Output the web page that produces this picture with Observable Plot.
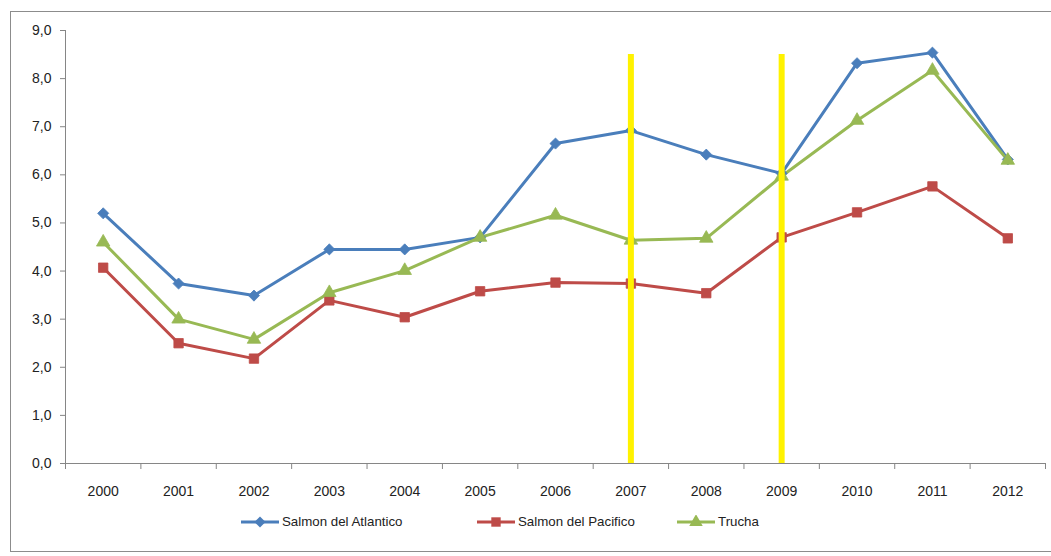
<!DOCTYPE html>
<html>
<head>
<meta charset="utf-8">
<script src="https://cdn.jsdelivr.net/npm/d3@7"></script>
<script src="https://cdn.jsdelivr.net/npm/@observablehq/plot@0.6"></script>
<style>
  html, body { margin: 0; padding: 0; background: #fff; }
  body { width: 1051px; height: 556px; position: relative; overflow: hidden; font-family: "Liberation Sans", "DejaVu Sans", sans-serif; }
  #frame { position: absolute; left: 10px; top: 11px; width: 1060px; height: 541px; border: 1px solid #8c8c8c; box-sizing: border-box; }
  #chart { position: absolute; left: 0; top: 0; }
  #legend { position: absolute; left: 240px; top: 514px; display: flex; align-items: center; font-size: 13.3px; color: #222; }
  .item { display: flex; align-items: center; }
  .item svg { display: block; margin-right: 2px; }
  #chart svg text { font-size: 14px; fill: #222; }
</style>
</head>
<body>
<div id="frame"></div>
<div id="chart"></div>
<div id="legend"></div>
<script>
const years = [2000, 2001, 2002, 2003, 2004, 2005, 2006, 2007, 2008, 2009, 2010, 2011, 2012];
const seriesNames = ["Salmon del Atlantico", "Salmon del Pacifico", "Trucha"];
const atlantico = [5.2, 3.74, 3.49, 4.45, 4.45, 4.7, 6.65, 6.92, 6.42, 6.03, 8.32, 8.54, 6.32];
const pacifico  = [4.07, 2.5, 2.18, 3.39, 3.04, 3.58, 3.76, 3.74, 3.54, 4.7, 5.22, 5.76, 4.68];
const trucha    = [4.6, 3.0, 2.58, 3.55, 4.01, 4.7, 5.16, 4.64, 4.68, 5.97, 7.13, 8.17, 6.3];
const yTicks = [0, 1, 2, 3, 4, 5, 6, 7, 8, 9];
const markedYears = [2007, 2009];
const markTop = 8.5;

const colors = ["#4A7EBB", "#BE4B48", "#98B954"];
const symbols = ["diamond2", "square", "triangle"];
const radii = [5.0, 5.3, 5.0];

const allValues = [atlantico, pacifico, trucha];
const data = [];
allValues.forEach((vals, s) => vals.forEach((v, i) => data.push({year: years[i], value: v, series: seriesNames[s]})));

const boundaries = years.map(y => y - 0.5).concat([years[years.length - 1] + 0.5]);
const fmt = d => d.toFixed(1).replace(".", ",");

const marks = [
  Plot.ruleX([boundaries[0]], {y1: 0, y2: yTicks[yTicks.length - 1], stroke: "#868686", strokeWidth: 1}),
  Plot.ruleY([0], {stroke: "#868686", strokeWidth: 1}),
  Plot.axisY({ticks: yTicks, tickFormat: fmt, tickSize: 5, tickPadding: 9, stroke: "#868686", fontSize: 14, color: "#222", label: null}),
  Plot.axisX({ticks: boundaries, tickFormat: () => "", tickSize: 6, stroke: "#868686", label: null}),
  Plot.axisX({ticks: years, tickFormat: d => String(d), tickSize: 0, tickPadding: 23, fontSize: 14, color: "#222", label: null})
];
seriesNames.forEach((name, s) => {
  const d = data.filter(r => r.series === name);
  marks.push(Plot.line(d, {x: "year", y: "value", stroke: colors[s], strokeWidth: 3, strokeLinejoin: "round"}));
});
seriesNames.forEach((name, s) => {
  const d = data.filter(r => r.series === name);
  marks.push(Plot.dot(d, {x: "year", y: "value", symbol: () => symbols[s], r: radii[s], fill: colors[s], stroke: colors[s], strokeWidth: 0.8}));
});
marks.push(Plot.ruleX(markedYears, {y1: 0, y2: markTop, stroke: "#FFF200", strokeWidth: 6}));

const chart = Plot.plot({
  width: 1051,
  height: 500,
  marginLeft: 65,
  marginRight: 6,
  marginTop: 30,
  marginBottom: 37,
  style: {fontFamily: "'Liberation Sans', 'DejaVu Sans', sans-serif", fontSize: "14px", background: "transparent", overflow: "visible"},
  x: {type: "linear", domain: [boundaries[0], boundaries[boundaries.length - 1]], axis: null},
  y: {domain: [0, yTicks[yTicks.length - 1]], axis: null},
  symbol: {type: "identity"},
  marks
});
document.getElementById("chart").appendChild(chart);

// Legend
const widths = [236, 200, 120];
const symMap = {diamond2: d3.symbolDiamond2, square: d3.symbolSquare, triangle: d3.symbolTriangle};
const legend = d3.select("#legend");
seriesNames.forEach((name, s) => {
  const item = legend.append("div").attr("class", "item").style("width", widths[s] + "px");
  const svg = item.append("svg").attr("width", 40).attr("height", 14);
  svg.append("line").attr("x1", 1).attr("x2", 39).attr("y1", 7).attr("y2", 7).attr("stroke", colors[s]).attr("stroke-width", 3);
  svg.append("path").attr("transform", "translate(20,7)")
    .attr("d", d3.symbol(symMap[symbols[s]], Math.PI * radii[s] * radii[s])())
    .attr("fill", colors[s]);
  item.append("span").text(name);
});
</script>
</body>
</html>
